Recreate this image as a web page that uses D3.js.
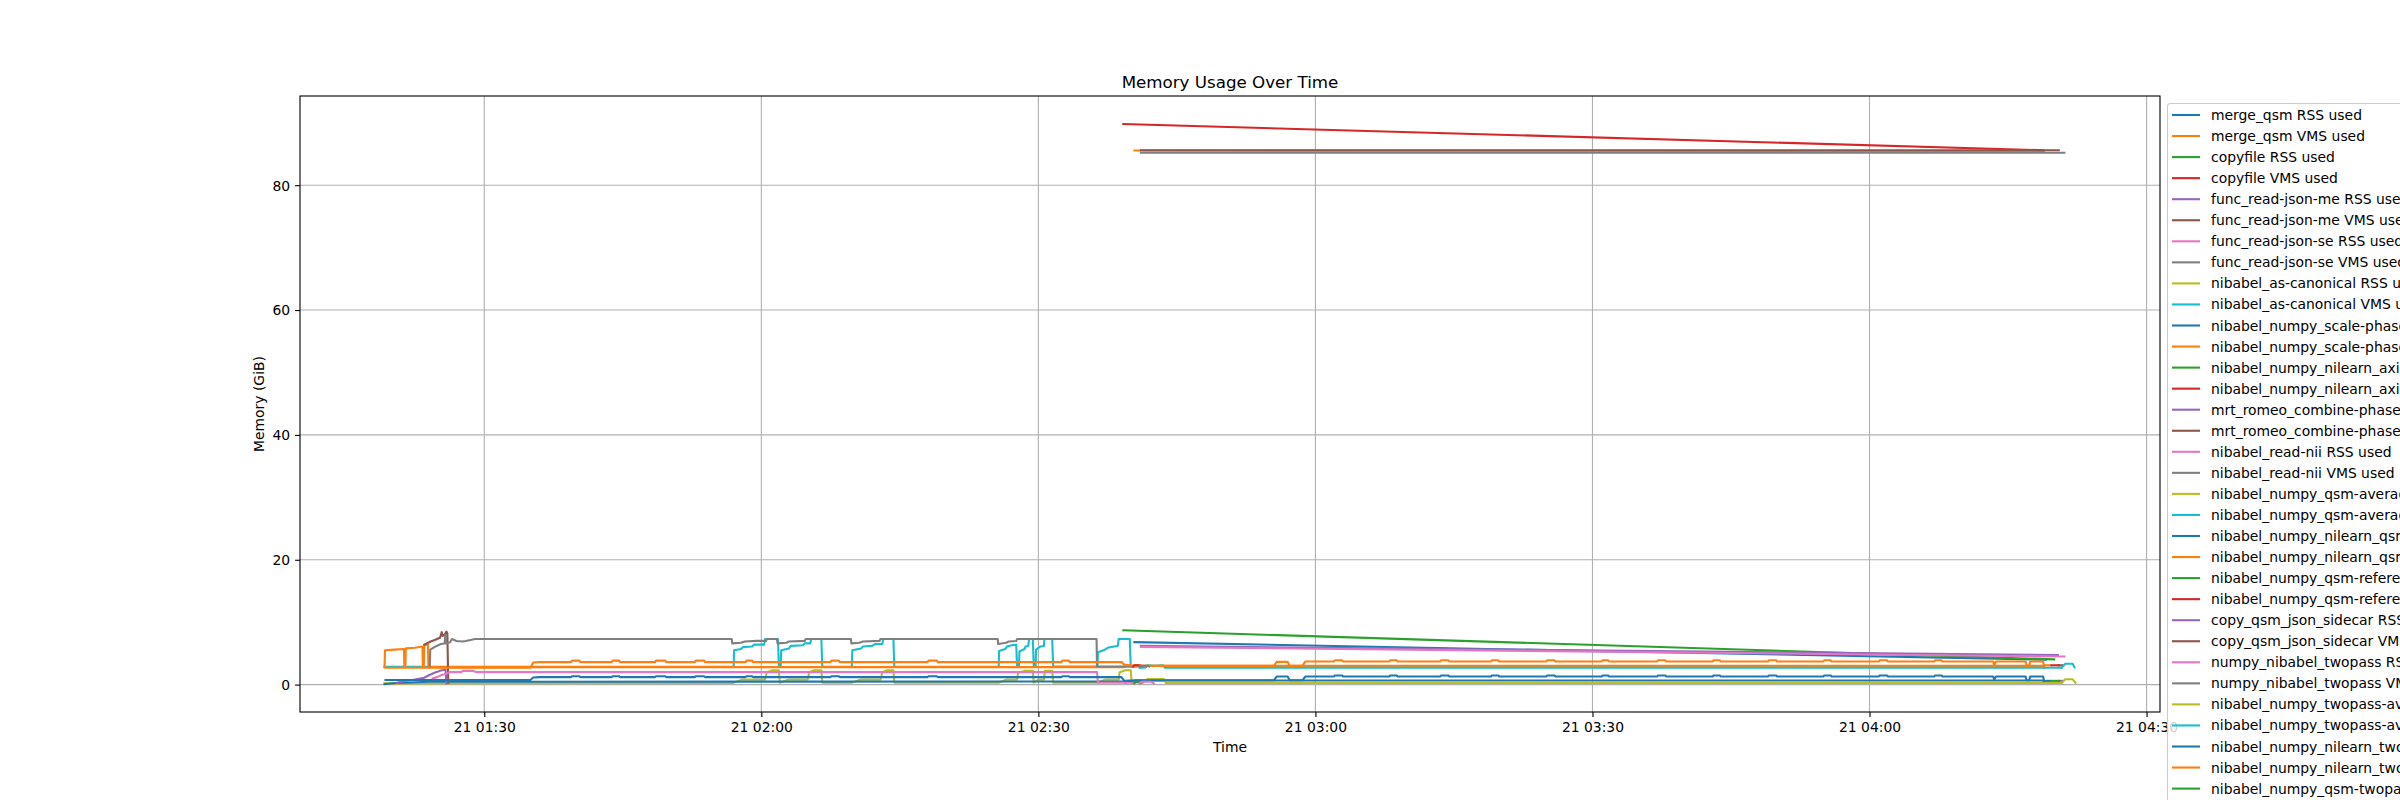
<!DOCTYPE html>
<html>
<head>
<meta charset="utf-8">
<script src="https://cdn.jsdelivr.net/npm/d3@7"></script>
<style>
  html, body { margin: 0; padding: 0; background: #fff; overflow: hidden; }
  svg { display: block; font-family: "DejaVu Sans", sans-serif; }
</style>
</head>
<body>
<svg id="chart" width="2400" height="800"></svg>
<script>
// time values are minutes after 01:00 on the 21st, memory in GiB
const baseTime = new Date(2024, 4, 21, 1, 0, 0);

const mergeQsmRss = [[100.4, 6.8], [199.1, 4.0]];
const mergeQsmVms = [[100.4, 85.55], [198.9, 85.45]];
const copyfileRss = [[99.2, 8.7], [200.0, 4.05]];
const copyfileVms = [[99.2, 89.8], [198.8, 85.6]];
const readJsonMeRss = [[101.1, 6.2], [200.4, 4.75]];
const readJsonMeVms = [[101.1, 85.6], [200.5, 85.6]];
const readJsonSeRss = [[101.1, 6.05], [201.1, 4.5]];
const readJsonSeVms = [[101.1, 85.2], [201.1, 85.2]];

const asCanonicalRss = [[19.2, 0.2], [56.9, 0.25], [57.0, 0.3], [57.9, 0.8], [60.4, 0.8], [60.6, 2.0], [61.2, 2.3], [61.9, 2.3],
  [62.0, 0.3], [62.9, 0.8], [65.0, 0.8], [65.2, 2.0], [65.7, 2.3], [66.5, 2.3], [66.6, 0.3], [69.8, 0.3], [70.7, 0.8],
  [72.9, 0.8], [73.1, 2.0], [73.6, 2.3], [74.3, 2.3], [74.4, 0.3], [85.7, 0.3], [86.5, 0.8], [87.7, 0.8], [87.8, 1.9],
  [88.5, 2.2], [89.4, 2.2], [89.5, 0.3], [90.0, 0.8], [90.6, 0.8], [90.7, 2.2], [91.5, 2.2], [91.6, 0.3], [96.4, 0.3],
  [97.2, 0.8], [98.7, 0.8], [98.8, 2.0], [99.4, 2.3], [100.0, 2.3], [100.1, 0.3], [100.5, 0.3]];
const asCanonicalVms = [[19.2, 2.85], [57.0, 2.85], [57.05, 5.5], [57.8, 5.7], [58.0, 6.0], [59.0, 6.1], [59.2, 6.4], [60.3, 6.4],
  [60.4, 7.3], [61.8, 7.3], [61.9, 2.85], [62.1, 2.85], [62.15, 5.5], [63.0, 5.8], [63.2, 6.2], [64.5, 6.3], [64.7, 6.6],
  [65.3, 6.6], [65.4, 7.3], [66.5, 7.3], [66.6, 2.85], [69.8, 2.85], [69.85, 5.5], [70.8, 5.8], [71.0, 6.1], [72.0, 6.2],
  [72.3, 6.5], [73.1, 6.5], [73.2, 7.3], [74.3, 7.3], [74.4, 2.85], [85.7, 2.85], [85.75, 5.4], [86.4, 5.7], [86.6, 6.1],
  [87.1, 6.3], [87.6, 6.4], [87.7, 2.85], [87.9, 2.85], [87.95, 5.3], [88.5, 5.7], [88.6, 6.1], [88.9, 6.2], [89.0, 7.3],
  [89.4, 7.3], [89.5, 2.85], [89.7, 2.85], [89.75, 5.6], [90.2, 6.1], [90.6, 6.2], [90.65, 7.3], [91.5, 7.3], [91.6, 2.9],
  [96.4, 2.9], [96.45, 5.2], [97.2, 5.6], [97.5, 5.9], [98.2, 6.1], [98.6, 6.2], [98.7, 7.3], [99.9, 7.3], [100.0, 2.9],
  [100.3, 2.9]];

const scalePhaseRss = [[19.2, 0.1], [20.5, 0.25], [22.0, 0.35], [23.9, 0.45], [26.0, 0.45], [99.2, 0.5], [99.4, 0.3],
  [100.5, 0.65], [198.8, 0.65], [198.9, 0.3]];
const scalePhaseVms = [[19.2, 2.8], [19.25, 5.5], [20.3, 5.6], [21.3, 5.7], [21.35, 2.8], [21.45, 2.8], [21.5, 5.8],
  [22.5, 5.9], [23.3, 6.1], [23.35, 2.8], [23.45, 2.8], [23.5, 6.2], [23.9, 6.5], [23.95, 2.8], [99.2, 2.8], [99.6, 2.9],
  [100.6, 3.0], [198.8, 3.0], [198.9, 2.7]];

const axisMaskRss = [[100.3, 0.25], [100.5, 0.4], [101.0, 0.4], [101.1, 0.25]];
const axisMaskVms = [[100.2, 2.9], [100.4, 3.05], [101.1, 3.05], [101.2, 2.9]];

const romeoRss = [[20.5, 0.3], [21.5, 0.6], [22.5, 0.8], [23.5, 1.1], [24.0, 1.5], [24.6, 1.9], [25.4, 2.3], [25.8, 2.4],
  [25.9, 0.2]];
const romeoVms = [[23.5, 6.4], [24.2, 6.9], [24.7, 7.2], [25.2, 7.5], [25.4, 8.4], [25.5, 7.8], [25.7, 8.0], [25.9, 8.5],
  [26.0, 8.2], [26.1, 0.3]];

const readNiiRss = [[24.4, 1.0], [24.9, 1.2], [25.3, 1.5], [25.8, 1.7], [26.2, 2.0], [27.5, 2.0], [27.7, 2.2], [28.8, 2.2],
  [29.2, 2.0], [96.35, 2.0], [96.45, 0.3], [100.3, 0.3]];
const readNiiVms = [[24.1, 2.7], [24.15, 5.6], [24.6, 6.0], [25.3, 6.5], [25.7, 6.6], [25.8, 8.0], [25.85, 6.6], [26.3, 6.8],
  [26.5, 7.3], [27.0, 7.0], [27.6, 6.9], [28.0, 7.0], [29.0, 7.3], [56.8, 7.3], [56.85, 6.6], [57.8, 6.7], [58.2, 6.9],
  [59.5, 7.0], [60.5, 7.0], [60.6, 7.3], [61.7, 7.3], [61.75, 6.6], [62.7, 6.7], [63.0, 6.9], [64.7, 7.0], [64.8, 7.3],
  [69.7, 7.3], [69.75, 6.6], [70.6, 6.7], [71.0, 6.9], [72.8, 7.0], [72.9, 7.3], [85.6, 7.3], [85.65, 6.5], [86.5, 6.7],
  [86.8, 6.9], [87.6, 7.0], [87.7, 7.3], [96.3, 7.3], [96.35, 2.9], [101.5, 2.9]];

const qsmAverageRss = [[101.3, 0.25], [101.8, 0.9], [103.6, 0.9], [103.8, 0.27], [200.8, 0.27]];
const qsmAverageVms = [[101.0, 2.7], [101.6, 2.75], [101.8, 3.1], [102.6, 3.0], [103.5, 3.1], [103.7, 2.7], [200.8, 2.7]];

const qsmMaskRss = [[19.3, 0.75], [35.0, 0.75], [35.3, 1.15], [36.0, 1.2], [39.4, 1.2], [39.5, 1.35], [40.3, 1.35],
  [40.4, 1.2], [43.8, 1.2], [43.9, 1.35], [44.6, 1.35], [44.7, 1.2], [48.5, 1.2], [48.6, 1.35], [49.6, 1.35], [49.7, 1.2],
  [52.8, 1.2], [52.9, 1.35], [53.8, 1.35], [53.9, 1.2], [58.3, 1.2], [58.4, 1.35], [59.0, 1.35], [59.1, 1.2], [67.5, 1.2],
  [67.6, 1.35], [68.4, 1.35], [68.5, 1.2], [78.0, 1.2], [78.1, 1.35], [79.0, 1.35], [79.1, 1.2], [92.5, 1.2], [92.6, 1.35],
  [93.3, 1.35], [93.4, 1.2], [99.0, 1.2], [99.3, 0.6], [100.6, 0.7], [115.5, 0.7], [115.8, 1.3], [117.0, 1.3], [117.2, 0.7],
  [118.6, 0.7], [118.9, 1.3], [122.0, 1.3], [122.1, 1.45], [122.9, 1.45], [123.0, 1.3], [128.0, 1.3], [128.1, 1.45],
  [128.8, 1.45], [128.9, 1.3], [133.5, 1.3], [133.6, 1.45], [134.4, 1.45], [134.5, 1.3], [139.0, 1.3], [139.1, 1.45],
  [139.8, 1.45], [139.9, 1.3], [145.0, 1.3], [145.1, 1.45], [145.9, 1.45], [146.0, 1.3], [151.0, 1.3], [151.1, 1.45],
  [151.7, 1.45], [151.8, 1.3], [157.0, 1.3], [157.1, 1.45], [157.9, 1.45], [158.0, 1.3], [163.0, 1.3], [163.1, 1.45],
  [163.8, 1.45], [163.9, 1.3], [169.0, 1.3], [169.1, 1.45], [169.9, 1.45], [170.0, 1.3], [175.0, 1.3], [175.1, 1.45],
  [175.8, 1.45], [175.9, 1.3], [181.0, 1.3], [181.1, 1.45], [181.9, 1.45], [182.0, 1.3], [187.0, 1.3], [187.1, 1.45],
  [187.8, 1.45], [187.9, 1.3], [193.4, 1.3], [193.5, 0.8], [193.7, 1.3], [196.9, 1.3], [197.0, 0.7], [197.3, 0.7],
  [197.4, 1.3], [198.8, 1.3], [198.9, 0.6]];
const qsmMaskVms = [[19.3, 2.7], [35.0, 2.7], [35.3, 3.55], [36.0, 3.6], [39.4, 3.6], [39.5, 3.85], [40.3, 3.85],
  [40.4, 3.6], [43.8, 3.6], [43.9, 3.85], [44.6, 3.85], [44.7, 3.6], [48.5, 3.6], [48.6, 3.85], [49.6, 3.85], [49.7, 3.6],
  [52.8, 3.6], [52.9, 3.85], [53.8, 3.85], [53.9, 3.6], [58.3, 3.6], [58.4, 3.85], [59.0, 3.85], [59.1, 3.6], [67.5, 3.6],
  [67.6, 3.85], [68.4, 3.85], [68.5, 3.6], [78.0, 3.6], [78.1, 3.85], [79.0, 3.85], [79.1, 3.6], [92.5, 3.6], [92.6, 3.85],
  [93.3, 3.85], [93.4, 3.6], [99.0, 3.6], [99.3, 3.2], [100.6, 3.0], [115.5, 3.0], [115.8, 3.65], [117.0, 3.65],
  [117.2, 3.0], [118.6, 3.0], [118.9, 3.7], [122.0, 3.7], [122.1, 3.9], [122.9, 3.9], [123.0, 3.7], [128.0, 3.7],
  [128.1, 3.9], [128.8, 3.9], [128.9, 3.7], [133.5, 3.7], [133.6, 3.9], [134.4, 3.9], [134.5, 3.7], [139.0, 3.7],
  [139.1, 3.9], [139.8, 3.9], [139.9, 3.7], [145.0, 3.7], [145.1, 3.9], [145.9, 3.9], [146.0, 3.7], [151.0, 3.7],
  [151.1, 3.9], [151.7, 3.9], [151.8, 3.7], [157.0, 3.7], [157.1, 3.9], [157.9, 3.9], [158.0, 3.7], [163.0, 3.7],
  [163.1, 3.9], [163.8, 3.9], [163.9, 3.7], [169.0, 3.7], [169.1, 3.9], [169.9, 3.9], [170.0, 3.7], [175.0, 3.7],
  [175.1, 3.9], [175.8, 3.9], [175.9, 3.7], [181.0, 3.7], [181.1, 3.9], [181.9, 3.9], [182.0, 3.7], [187.0, 3.7],
  [187.1, 3.9], [187.8, 3.9], [187.9, 3.7], [193.4, 3.7], [193.5, 3.1], [193.7, 3.7], [196.9, 3.7], [197.0, 3.05],
  [197.3, 3.05], [197.4, 3.7], [198.8, 3.7], [198.9, 3.0]];

const qsmReferenceRss = [[100.4, 0.25], [100.5, 0.45], [100.9, 0.45], [101.0, 0.25]];
const qsmReferenceVms = [[100.3, 2.95], [100.4, 3.1], [100.9, 3.1], [101.0, 2.95]];
const sidecarRss = [[200.5, 0.6], [200.9, 0.6]];
const sidecarVms = [[200.5, 3.1], [200.9, 3.1]];
const twopassRss = [[100.9, 0.2], [101.2, 0.45], [102.2, 0.45], [102.5, 0.2]];
const twopassVms = [[100.9, 2.9], [101.2, 3.0], [101.8, 3.0], [102.0, 2.9]];
const twopassAverageRss = [[200.8, 0.27], [201.2, 0.85], [202.0, 0.85], [202.3, 0.3]];
const twopassAverageVms = [[200.8, 2.7], [201.2, 3.35], [202.0, 3.35], [202.2, 2.75]];
const twopassMaskRss = [[198.9, 0.6], [199.6, 0.6]];
const twopassMaskVms = [[198.9, 3.1], [199.6, 3.1]];
const qsmTwopassRss = [[199.7, 0.6], [200.5, 0.6]];
const qsmTwopassVms = [[199.7, 3.1], [200.5, 3.1]];

const seriesNames = [
  "merge_qsm RSS used", "merge_qsm VMS used",
  "copyfile RSS used", "copyfile VMS used",
  "func_read-json-me RSS used", "func_read-json-me VMS used",
  "func_read-json-se RSS used", "func_read-json-se VMS used",
  "nibabel_as-canonical RSS used", "nibabel_as-canonical VMS used",
  "nibabel_numpy_scale-phase RSS used", "nibabel_numpy_scale-phase VMS used",
  "nibabel_numpy_nilearn_axial-mask RSS used", "nibabel_numpy_nilearn_axial-mask VMS used",
  "mrt_romeo_combine-phase RSS used", "mrt_romeo_combine-phase VMS used",
  "nibabel_read-nii RSS used", "nibabel_read-nii VMS used",
  "nibabel_numpy_qsm-average RSS used", "nibabel_numpy_qsm-average VMS used",
  "nibabel_numpy_nilearn_qsm-mask RSS used", "nibabel_numpy_nilearn_qsm-mask VMS used",
  "nibabel_numpy_qsm-reference RSS used", "nibabel_numpy_qsm-reference VMS used",
  "copy_qsm_json_sidecar RSS used", "copy_qsm_json_sidecar VMS used",
  "numpy_nibabel_twopass RSS used", "numpy_nibabel_twopass VMS used",
  "nibabel_numpy_twopass-average RSS used", "nibabel_numpy_twopass-average VMS used",
  "nibabel_numpy_nilearn_twopass-mask RSS used", "nibabel_numpy_nilearn_twopass-mask VMS used",
  "nibabel_numpy_qsm-twopass RSS used", "nibabel_numpy_qsm-twopass VMS used"
];
const seriesValues = [
  mergeQsmRss, mergeQsmVms, copyfileRss, copyfileVms, readJsonMeRss, readJsonMeVms, readJsonSeRss, readJsonSeVms,
  asCanonicalRss, asCanonicalVms, scalePhaseRss, scalePhaseVms, axisMaskRss, axisMaskVms, romeoRss, romeoVms,
  readNiiRss, readNiiVms, qsmAverageRss, qsmAverageVms, qsmMaskRss, qsmMaskVms, qsmReferenceRss, qsmReferenceVms,
  sidecarRss, sidecarVms, twopassRss, twopassVms, twopassAverageRss, twopassAverageVms, twopassMaskRss, twopassMaskVms,
  qsmTwopassRss, qsmTwopassVms
];
const yTicks = [0, 20, 40, 60, 80];
const tickFormat = d3.timeFormat("%d %H:%M");

const colors = ["#1f77b4", "#ff7f0e", "#2ca02c", "#d62728", "#9467bd",
  "#8c564b", "#e377c2", "#7f7f7f", "#bcbd22", "#17becf"];

const box = { left: 300, right: 2160, top: 96, bottom: 712 };
const toTime = m => new Date(baseTime.getTime() + m * 60000);

// matplotlib-style 5% margins around the data
const allPts = seriesValues.flat();
const mExt = d3.extent(allPts, d => d[0]);
const vExt = d3.extent(allPts, d => d[1]);
const mPad = (mExt[1] - mExt[0]) * 0.05;
const vPad = (vExt[1] - vExt[0]) * 0.05;

const x = d3.scaleTime()
  .domain([toTime(mExt[0] - mPad), toTime(mExt[1] + mPad)])
  .range([box.left, box.right]);
const y = d3.scaleLinear()
  .domain([vExt[0] - vPad, vExt[1] + vPad])
  .range([box.bottom, box.top]);

const svg = d3.select("#chart");
svg.append("rect").attr("width", 2400).attr("height", 800).attr("fill", "#fff");

svg.append("defs").append("clipPath").attr("id", "plotclip")
  .append("rect")
  .attr("x", box.left).attr("y", box.top)
  .attr("width", box.right - box.left).attr("height", box.bottom - box.top);

// grid
const xTickVals = x.ticks(d3.timeMinute.every(30));
const grid = svg.append("g").attr("stroke", "#b0b0b0").attr("stroke-width", 1.1);
grid.selectAll(".gx").data(xTickVals).enter().append("line")
  .attr("x1", d => x(d)).attr("x2", d => x(d))
  .attr("y1", box.top).attr("y2", box.bottom);
grid.selectAll(".gy").data(yTicks).enter().append("line")
  .attr("x1", box.left).attr("x2", box.right)
  .attr("y1", d => y(d)).attr("y2", d => y(d));

// series
const line = d3.line()
  .x(d => x(toTime(d[0])))
  .y(d => y(d[1]));

svg.append("g").attr("clip-path", "url(#plotclip)")
  .selectAll("path").data(seriesValues).enter().append("path")
  .attr("d", line)
  .attr("fill", "none")
  .attr("stroke", (d, i) => colors[i % 10])
  .attr("stroke-width", 2.1)
  .attr("stroke-linejoin", "round")
  .attr("stroke-linecap", "square");

// axes
const xAxis = svg.append("g")
  .attr("transform", "translate(0," + box.bottom + ")")
  .call(d3.axisBottom(x).tickValues(xTickVals).tickFormat(tickFormat).tickSize(4.9).tickPadding(4.9));
const yAxis = svg.append("g")
  .attr("transform", "translate(" + box.left + ",0)")
  .call(d3.axisLeft(y).tickValues(yTicks).tickFormat(d3.format("d")).tickSize(4.9).tickPadding(4.9));

[xAxis, yAxis].forEach(function (g) {
  g.select(".domain").remove();
  g.selectAll(".tick line").attr("stroke", "#000").attr("stroke-width", 1.1);
  g.selectAll(".tick text")
    .attr("fill", "#000")
    .style("font-family", "DejaVu Sans")
    .style("font-size", "13.9px");
});
yAxis.selectAll(".tick text").attr("dy", "0.35em");
xAxis.selectAll(".tick text").attr("dy", "0.76em");

// frame
svg.append("rect")
  .attr("x", box.left).attr("y", box.top)
  .attr("width", box.right - box.left).attr("height", box.bottom - box.top)
  .attr("fill", "none").attr("stroke", "#000").attr("stroke-width", 1.1);

// titles
svg.append("text")
  .attr("x", (box.left + box.right) / 2).attr("y", 88)
  .attr("text-anchor", "middle")
  .style("font-size", "16.7px")
  .text("Memory Usage Over Time");
svg.append("text")
  .attr("x", (box.left + box.right) / 2).attr("y", 752)
  .attr("text-anchor", "middle")
  .style("font-size", "13.9px")
  .text("Time");
svg.append("text")
  .attr("transform", "translate(264," + (box.top + box.bottom) / 2 + ") rotate(-90)")
  .attr("text-anchor", "middle")
  .style("font-size", "13.9px")
  .text("Memory (GiB)");

// legend outside the axes, upper left anchor
const legend = svg.append("g").attr("transform", "translate(2167.5,103.5)");
legend.append("rect")
  .attr("width", 420).attr("height", 760)
  .attr("rx", 3).attr("ry", 3)
  .attr("fill", "#fff").attr("fill-opacity", 0.8)
  .attr("stroke", "#cccccc").attr("stroke-width", 1.1);
const rows = legend.selectAll(".row").data(seriesNames).enter().append("g")
  .attr("transform", (d, i) => "translate(0," + (11.5 + i * 21.05) + ")");
rows.append("line")
  .attr("x1", 4.5).attr("x2", 32.5)
  .attr("stroke", (d, i) => colors[i % 10])
  .attr("stroke-width", 2.1);
rows.append("text")
  .attr("x", 43.5).attr("y", 5)
  .style("font-size", "13.9px")
  .text(d => d);
</script>
</body>
</html>
